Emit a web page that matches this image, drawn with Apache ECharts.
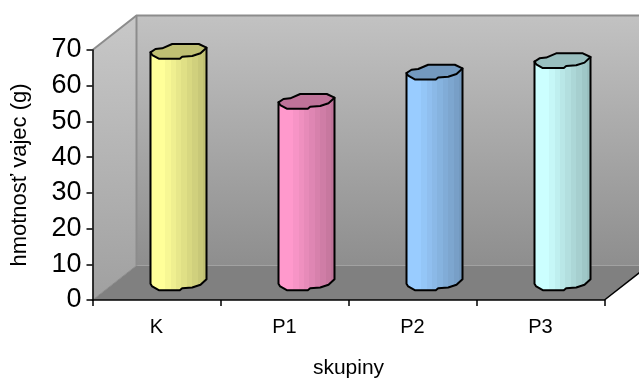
<!DOCTYPE html>
<html><head><meta charset="utf-8">
<style>html,body{margin:0;padding:0;background:#fff}#c{width:639px;height:378px}</style>
<script src="https://cdn.jsdelivr.net/npm/echarts@6/dist/echarts.min.js"></script>
</head><body><div id="c"></div>
<script>
var categories = ['K', 'P1', 'P2', 'P3'];
var values = [64.8, 50.8, 59, 62.2];
var lightColors = ['#ffff99', '#ff99cc', '#99ccff', '#ccffff'];
var darkColors = ['#c0c073', '#bf7399', '#7399bf', '#99bfbf'];
var yTicks = [0, 70];
var axisTitleY = 'hmotnosť vajec (g)';
var axisTitleX = 'skupiny';

var DEPTH_X = 44, DEPTH_Y = 34.5;
var capShape = [[-28,1],[-23,-2.3],[-16.3,-3],[-6.3,-7.3],[20.3,-7.3],[28,-3.6],[22,2],[13.7,4.7],[3.7,5.4],[1.3,7.4],[-19.7,7.4],[-26.3,3.7]];
var frontEdge = [[28,-3.6],[22,2],[13.7,4.7],[3.7,5.4],[1.3,7.4],[-19.7,7.4],[-26.3,3.7],[-28,1]];

function mix(a, b, t) {
  var pa = parseInt(a.slice(1), 16), pb = parseInt(b.slice(1), 16);
  var ch = function (s) {
    var x = (pa >> s) & 255, y = (pb >> s) & 255;
    return Math.round(x + (y - x) * t);
  };
  return 'rgb(' + ch(16) + ',' + ch(8) + ',' + ch(0) + ')';
}
var stripEdges = [0, .27, .37, .45, .55, .65, .74, .84, .92, 1];
function stripes(i) {
  var stops = [];
  for (var k = 0; k < stripEdges.length - 1; k++) {
    var c = mix(lightColors[i], darkColors[i], k / (stripEdges.length - 2));
    stops.push({offset: stripEdges[k], color: c}, {offset: stripEdges[k + 1], color: c});
  }
  return new echarts.graphic.LinearGradient(0, 0, 1, 0, stops);
}

function renderWalls(params, api) {
  var cs = params.coordSys, l = cs.x, t = cs.y, r = cs.x + cs.width, b = cs.y + cs.height;
  var wallFill = new echarts.graphic.LinearGradient(0, 0, 0, 1, [{offset: 0, color: '#c2c2c2'}, {offset: 1, color: '#8e8e8e'}]);
  var sideFill = new echarts.graphic.LinearGradient(0, 0, 0, 1, [{offset: 0, color: '#c8c8c8'}, {offset: 1, color: '#a0a0a0'}]);
  var edge = {stroke: '#8c8c8c', lineWidth: 2};
  return {type: 'group', children: [
    {type: 'polygon', shape: {points: [[l + DEPTH_X, t - DEPTH_Y], [r + DEPTH_X, t - DEPTH_Y], [r + DEPTH_X, b - DEPTH_Y], [l + DEPTH_X, b - DEPTH_Y]]}, style: {fill: wallFill}},
    {type: 'polygon', shape: {points: [[l, t], [l + DEPTH_X, t - DEPTH_Y], [l + DEPTH_X, b - DEPTH_Y], [l, b]]}, style: {fill: sideFill}},
    {type: 'polygon', shape: {points: [[l, b], [l + DEPTH_X, b - DEPTH_Y], [r + DEPTH_X, b - DEPTH_Y], [r, b]]}, style: {fill: '#808080'}},
    {type: 'polyline', shape: {points: [[l, t], [l + DEPTH_X, t - DEPTH_Y], [r + DEPTH_X, t - DEPTH_Y]]}, style: Object.assign({fill: null}, edge)},
    {type: 'line', shape: {x1: l + DEPTH_X, y1: t - DEPTH_Y, x2: l + DEPTH_X, y2: b - DEPTH_Y}, style: edge},
    {type: 'line', shape: {x1: l, y1: b, x2: l + DEPTH_X, y2: b - DEPTH_Y}, style: {stroke: '#8c8c8c', lineWidth: 1}},
    {type: 'polyline', shape: {points: [[r, b], [r + DEPTH_X, b - DEPTH_Y]]}, style: {stroke: '#000', lineWidth: 1.5, fill: null}}
  ]};
}

function renderBar(params, api) {
  var i = params.dataIndex;
  var top = api.coord([api.value(0), api.value(1)]);
  var base = api.coord([api.value(0), 0]);
  var dx = DEPTH_X / 2, dy = -DEPTH_Y / 2;
  var cx = top[0] + dx, ty = top[1] + dy, by = base[1] + dy;
  var pts = [[cx - 28, ty + 1], [cx + 28, ty - 3.6]];
  frontEdge.forEach(function (p) { pts.push([cx + p[0], by + p[1]]); });
  var cap = capShape.map(function (p) { return [cx + p[0], ty + p[1]]; });
  var line = {stroke: '#000', lineWidth: 2, lineJoin: 'round'};
  return {type: 'group', children: [
    {type: 'polygon', shape: {points: pts}, style: Object.assign({fill: stripes(i)}, line)},
    {type: 'polygon', shape: {points: cap}, style: Object.assign({fill: darkColors[i]}, line)}
  ]};
}

var chart = echarts.init(document.getElementById('c'), null, {renderer: 'canvas'});
chart.setOption({
  animation: false,
  grid: {left: 92.5, top: 50, width: 512, height: 250, containLabel: false, outerBoundsMode: 'none'},
  xAxis: {
    type: 'category', data: categories, z: 10,
    name: axisTitleX, nameLocation: 'middle', nameGap: 58,
    nameTextStyle: {fontFamily: 'Liberation Sans', fontSize: 21, color: '#000'},
    axisLine: {lineStyle: {color: '#000', width: 1.5}},
    axisTick: {show: true, alignWithLabel: false, length: 6, lineStyle: {color: '#000', width: 1.5}},
    axisLabel: {fontFamily: 'Liberation Sans', fontSize: 20, color: '#000', margin: 17},
    splitLine: {show: false}
  },
  yAxis: {
    type: 'value', min: yTicks[0], max: yTicks[1], interval: 10, z: 10,
    name: axisTitleY, nameLocation: 'middle', nameGap: 62,
    nameTextStyle: {fontFamily: 'Liberation Sans', fontSize: 22, color: '#000'},
    axisLine: {show: true, lineStyle: {color: '#000', width: 1.5}},
    axisTick: {show: true, length: 6, lineStyle: {color: '#000', width: 1.5}},
    axisLabel: {fontFamily: 'Liberation Sans', fontSize: 27, color: '#000', margin: 11},
    splitLine: {show: false}
  },
  series: [
    {type: 'custom', name: 'walls', z: 1, silent: true, clip: false, data: [[categories[0], 0]], encode: {x: 0, y: 1}, renderItem: renderWalls},
    {type: 'custom', name: 'hmotnost', z: 2, clip: false,
     data: categories.map(function (c, i) { return [c, values[i]]; }), encode: {x: 0, y: 1}, renderItem: renderBar}
  ]
});
</script></body></html>
